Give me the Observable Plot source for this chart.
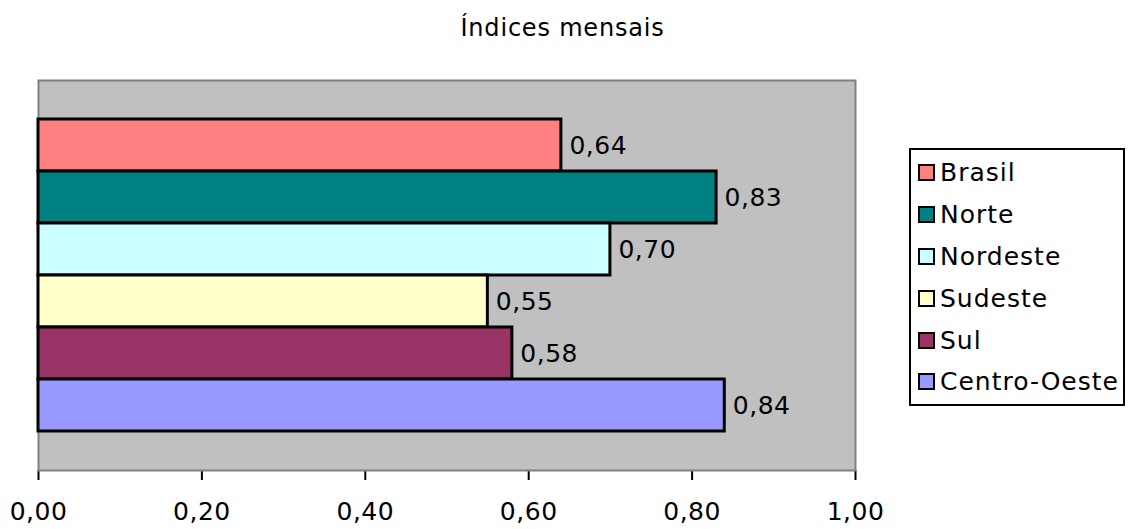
<!DOCTYPE html>
<html>
<head>
<meta charset="utf-8">
<script src="https://cdn.jsdelivr.net/npm/d3@7"></script>
<script src="https://cdn.jsdelivr.net/npm/@observablehq/plot@0.6"></script>
<style>
  body { margin: 0; background: #fff; }
  #wrap { position: relative; width: 1137px; height: 529px; font-family: "DejaVu Sans", sans-serif; color: #000; }
  #title { height: 60px; box-sizing: border-box; padding-top: 16px; padding-right: 12px; line-height: 24px; font-size: 24px; letter-spacing: 0.8px; text-align: center; width: 1137px; }
  #legend { position: absolute; left: 909px; top: 148px; width: 216px; height: 258px; box-sizing: border-box; border: 2.5px solid #000; padding: 2px 0 0 7px; background: #fff; }
  .item { height: 41.8px; display: flex; align-items: center; font-size: 25px; letter-spacing: 1px; white-space: nowrap; }
  .sw { width: 17px; height: 17px; box-sizing: border-box; border: 2px solid #000; margin-right: 5px; flex: none; }
</style>
</head>
<body>
<div id="wrap">
  <div id="title">Índices mensais</div>
  <div id="chart"></div>
  <div id="legend"></div>
</div>
<script>
const categories = ["Brasil", "Norte", "Nordeste", "Sudeste", "Sul", "Centro-Oeste"];
const values = [0.64, 0.83, 0.70, 0.55, 0.58, 0.84];
const colors = ["#FF8080", "#008080", "#CCFFFF", "#FFFFCC", "#993366", "#9999FF"];
const xTicks = [0, 0.2, 0.4, 0.6, 0.8, 1.0];
const title = "Índices mensais";

const fmt = v => d3.format(".2f")(v).replace(".", ",");
const data = categories.map((c, i) => ({name: c, value: values[i]}));

const chart = Plot.plot({
  width: 1137,
  height: 469,
  marginLeft: 38,
  marginRight: 282,
  marginTop: 20,
  marginBottom: 59,
  style: {fontFamily: "DejaVu Sans, sans-serif", fontSize: "25px", letterSpacing: "0.5px", color: "#000", background: "transparent"},
  x: {domain: [0, 1], ticks: xTicks, tickFormat: fmt, tickSize: 10, tickPadding: 22, line: true, label: null},
  y: {domain: categories, range: [58.5, 372], padding: 0, axis: null},
  color: {domain: categories, range: colors},
  marks: [
    Plot.frame({fill: "#C0C0C0", stroke: "#808080", strokeWidth: 2}),
    Plot.barX(data, {x: "value", y: "name", fill: "name", stroke: "#000", strokeWidth: 3, insetTop: 0, insetBottom: 0}),
    Plot.text(data, {x: "value", y: "name", text: d => fmt(d.value), dx: 8, textAnchor: "start", fontSize: 25, fill: "#000"})
  ]
});
document.getElementById("chart").appendChild(chart);
chart.querySelectorAll("[aria-label='x-axis line'] line, [aria-label='x-axis tick'] path, [aria-label='x-axis tick'] line").forEach(e => { e.setAttribute("stroke-width", 2); e.setAttribute("stroke", "#000"); });

const legend = document.getElementById("legend");
categories.forEach((c, i) => {
  const it = document.createElement("div");
  it.className = "item";
  const sw = document.createElement("span");
  sw.className = "sw";
  sw.style.background = colors[i];
  const t = document.createElement("span");
  t.textContent = c;
  it.appendChild(sw); it.appendChild(t);
  legend.appendChild(it);
});
</script>
</body>
</html>
